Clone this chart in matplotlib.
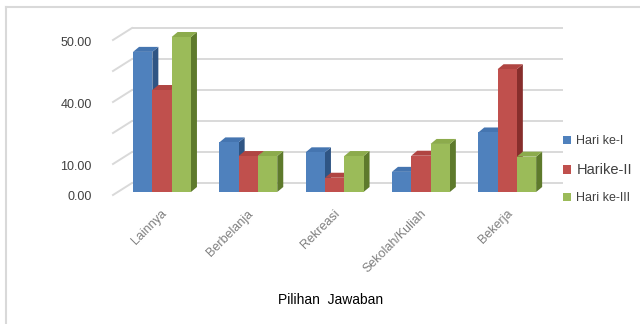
import matplotlib
matplotlib.use("Agg")
import matplotlib.pyplot as plt
from matplotlib.patches import Polygon, Rectangle, Patch
from matplotlib.lines import Line2D
from matplotlib.transforms import ScaledTranslation

# ---------------- data ----------------
categories = ["Lainnya", "Berbelanja", "Rekreasi", "Sekolah/Kuliah", "Bekerja"]
series_names = ["Hari ke-I", "Harike-II", "Hari ke-III"]
hari_1 = [45.2, 16.0, 12.8, 6.5, 19.2]
hari_2 = [32.9, 11.6, 4.6, 11.7, 39.6]
hari_3 = [50.0, 11.6, 11.6, 15.5, 11.4]
ytick_values = [0, 10, 30, 50]
ytick_labels = ["0.00", "10.00", "40.00", "50.00"]
grid_values = [0, 10, 20, 30, 40, 50]
x_title = "Pilihan  Jawaban"

series = [hari_1, hari_2, hari_3]
front_cols = ["#4F81BD", "#C0504D", "#9BBB59"]
top_cols = ["#4575B0", "#B04542", "#8CAB4C"]
side_cols = ["#2F5584", "#872E2C", "#5E7A2C"]

FONT = ["Liberation Sans Narrow", "Liberation Sans", "DejaVu Sans"]
plt.rcParams["font.family"] = FONT

W, H = 640, 324
fig = plt.figure(figsize=(W / 100, H / 100), dpi=100)

# axes geometry (pixels)
ppx, ppy = 86.3, 3.1
xlim = (-0.8, 4.8)
ylim = (-5, 60)
zero_from_top = 192
ax_left = 162 + xlim[0] * ppx
ax_w = (xlim[1] - xlim[0]) * ppx
ax_bottom = (H - zero_from_top) + ylim[0] * ppy
ax_h = (ylim[1] - ylim[0]) * ppy
ax = fig.add_axes([ax_left / W, ax_bottom / H, ax_w / W, ax_h / H])
ax.set_xlim(*xlim)
ax.set_ylim(*ylim)
for s in ax.spines.values():
    s.set_visible(False)
ax.patch.set_alpha(0)


def px_to_x(px):
    return xlim[0] + (px - ax_left) / ppx


# depth offsets
dxb, dyb = 6 / ppx, 5 / ppy           # bar depth
back_dy = 9 / ppy                     # back wall offset
wall_left_back = px_to_x(132)
wall_left_front = px_to_x(113)
wall_right = px_to_x(563)
wall_drop = 12 / ppy

# back wall gridlines and side-wall diagonals
for v in grid_values:
    yb = v + back_dy
    ax.add_line(Line2D([wall_left_back, wall_right], [yb, yb], color="#D9D9D9",
                       lw=1.4, zorder=1, solid_capstyle="butt"))
    ax.add_line(Line2D([wall_left_front, wall_left_back], [yb - wall_drop, yb],
                       color="#D9D9D9", lw=1.4, zorder=1))

# bars with 3-D faces
bw = 19.3 / ppx
z = 5
for i in range(len(categories)):
    for j, vals in enumerate(series):
        h = vals[i]
        x0 = i + (j - 1) * bw - bw / 2
        x1 = x0 + bw
        side = Polygon([(x1, 0), (x1 + dxb, dyb), (x1 + dxb, h + dyb), (x1, h)],
                       closed=True, facecolor=side_cols[j], edgecolor="none", zorder=z)
        top = Polygon([(x0, h), (x1, h), (x1 + dxb, h + dyb), (x0 + dxb, h + dyb)],
                      closed=True, facecolor=top_cols[j], edgecolor="none", zorder=z)
        front = Rectangle((x0, 0), bw, h, facecolor=front_cols[j], edgecolor="none",
                          zorder=z + 0.5)
        ax.add_patch(side)
        ax.add_patch(top)
        ax.add_patch(front)
        z += 1

# ticks
ax.set_yticks(ytick_values)
ax.set_yticklabels(ytick_labels)
ax.tick_params(axis="y", length=0, pad=1, labelsize=9, labelcolor="#404040")
for lab in ax.get_yticklabels():
    lab.set_transform(lab.get_transform() + ScaledTranslation(0, -4 / 100, fig.dpi_scale_trans))

ax.set_xticks(range(len(categories)))
ax.set_xticklabels(categories, rotation=45, ha="right", rotation_mode="anchor")
ax.tick_params(axis="x", length=0, pad=0, labelsize=9, labelcolor="#7F7F7F")
for lab in ax.get_xticklabels():
    lab.set_transform(lab.get_transform() + ScaledTranslation(-1 / 100, 0, fig.dpi_scale_trans))

# axis title
fig.text(331 / W, 1 - 300 / H, x_title, ha="center", va="center", fontsize=10, color="black")

# legend
handles = [Patch(facecolor=c, edgecolor="none") for c in front_cols]
leg = fig.legend(handles, series_names, loc="upper left",
                 bbox_to_anchor=(552 / W, 1 - 124 / H), frameon=False,
                 handlelength=0.65, handleheight=0.65, handletextpad=0.4,
                 labelspacing=1.25, fontsize=9)
for t in leg.get_texts():
    t.set_color("#404040")
leg.get_texts()[1].set_fontsize(10.5)

# chart frame
fig.add_artist(Line2D([6 / W, 6 / W], [0, 1 - 7 / H], transform=fig.transFigure,
                      color="#D9D9D9", lw=1.5))
fig.add_artist(Line2D([6 / W, 1], [1 - 7 / H, 1 - 7 / H], transform=fig.transFigure,
                      color="#D9D9D9", lw=1.5))

fig.savefig("out.png", dpi=100)
